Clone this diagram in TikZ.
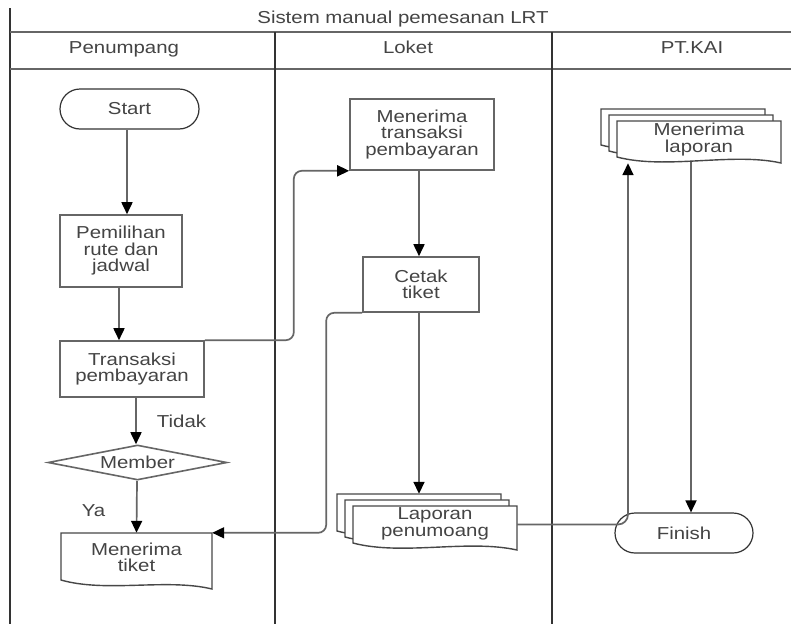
\documentclass[tikz,border=0pt]{standalone}
\usepackage{fontspec}
\setmainfont{Liberation Sans}[FakeStretch=1.18]
\usetikzlibrary{arrows.meta,shapes.geometric}
\definecolor{ln}{HTML}{666666}
\definecolor{tx}{HTML}{444444}
\definecolor{dv}{HTML}{333333}
\tikzset{
  box/.style={draw=ln, line width=1.6pt, fill=white},
  docbox/.style={draw=dv!90, line width=1.4pt, fill=white},
  txt/.style={text=tx, font=\fontsize{17.3}{16.5}\selectfont, align=center, inner sep=0pt},
  procbox/.style={txt, box, rectangle},
  termbox/.style={txt, draw=dv, line width=1.2pt, fill=white, rectangle, rounded corners=20pt},
  plain/.style={txt, rectangle},
  conn/.style={draw=ln, line width=1.7pt, rounded corners=8pt},
  arr/.style={conn, -{Triangle[length=12pt,width=11pt,fill=black,color=black]}},
  lane/.style={draw=dv, line width=2.3pt},
  hline/.style={draw=ln, line width=1.9pt}
}
\newcommand\docshape[5]{%
  \pgfmathsetmacro\dsxr{#1+#3}%
  \pgfmathsetmacro\dsyr{#2+#5}%
  \pgfmathsetmacro\dsyl{#2+#4}%
  \pgfmathsetmacro\dscax{#1+0.7*#3}%
  \pgfmathsetmacro\dscay{#2+#5-11}%
  \pgfmathsetmacro\dscbx{#1+0.3*#3}%
  \pgfmathsetmacro\dscby{#2+#4+13}%
  \draw[docbox] (#1,#2) -- (\dsxr,#2) -- (\dsxr,\dsyr) .. controls (\dscax,\dscay) and (\dscbx,\dscby) .. (#1,\dsyl) -- cycle;
}
\begin{document}
\begin{tikzpicture}[x=1pt,y=-1pt]
\useasboundingbox (0,0) rectangle (791,624);
\fill[white] (0,0) rectangle (791,624);

% pool and lanes
\draw[lane] (10,8) -- (10,624);
\draw[hline] (10,32) -- (791,32);
\draw[hline] (10,69) -- (791,69);
\draw[lane] (275,32) -- (275,624);
\draw[lane] (552,32) -- (552,624);

\node[txt, anchor=base] (title) at (403,23) {Sistem manual pemesanan LRT};
\node[txt, anchor=base] (h1) at (124,53) {Penumpang};
\node[txt, anchor=base] (h2) at (408,53) {Loket};
\node[txt, anchor=base] (h3) at (692,53) {PT.KAI};

% invisible anchors for document shapes (defined first for connectors)
\node[plain, minimum width=151pt, minimum height=47pt] (tiket) at (136.5,556.5) {};
\node[plain, minimum width=164pt, minimum height=37pt] (lap) at (435,524.5) {};
\node[plain, minimum width=164pt, minimum height=37pt] (menlap) at (699,139.5) {};

% process nodes
\node[termbox, minimum width=139pt, minimum height=40pt] (start) at (129.5,109) {Start};
\node[procbox, minimum width=122pt, minimum height=72pt] (pem) at (121,251) {Pemilihan\\rute dan\\jadwal};
\node[procbox, minimum width=144pt, minimum height=56pt] (tr) at (132,369) {Transaksi\\pembayaran};
\node[txt, box, shape=diamond, aspect=5.1, minimum width=179pt, minimum height=35pt] (mem) at (137.5,462.5) {Member};
\node[procbox, minimum width=144pt, minimum height=71pt] (mt) at (422,134.5) {Menerima\\transaksi\\pembayaran};
\node[procbox, minimum width=116pt, minimum height=55pt] (ct) at (421,284.5) {Cetak\\tiket};

% connectors
\draw[arr] ([xshift=-2.5pt]start.south) -- ([xshift=6pt]pem.north);
\draw[arr] ([xshift=-2pt]pem.south) -- ([xshift=-13pt]tr.north);
\draw[arr] ([xshift=4pt]tr.south) -- ([xshift=-1.5pt]mem.north);
\draw[arr] ([xshift=-0.5pt]mem.south) -- (tiket.north);
\draw[arr] (tr.north east) -- ++(89,0) |- (mt.south west);
\draw[arr] ([xshift=-3pt]mt.south) -- ([xshift=-2pt]ct.north);
\draw[arr] (ct.south west) -- ++(-36,0) |- (tiket.north east);
\draw[arr] ([xshift=-2pt]ct.south) -- ([xshift=-16pt,yshift=12pt]lap.north);

% document shapes
\docshape{61}{533}{151}{47}{56}
\node[txt] (tikettext) at (136.5,557.5) {Menerima\\tiket};

\docshape{337}{494}{164}{37}{44}
\docshape{345}{500}{164}{37}{44}
\docshape{353}{506}{164}{37}{44}
\node[txt] (laptext) at (435,524) {Laporan\\penumoang};

\docshape{601}{109}{164}{36}{42}
\docshape{609}{115}{164}{36}{42}
\docshape{617}{121}{164}{36}{42}
\node[txt] (menlaptext) at (699,139.5) {Menerima\\laporan};

\node[termbox, minimum width=138pt, minimum height=40pt] (fin) at (684,533) {Finish};

\draw[arr, rounded corners=10pt] (lap.east) -| ([xshift=-71pt,yshift=-5pt]menlap.south);
\draw[arr] ([xshift=-8pt,yshift=-4pt]menlap.south) -- ([xshift=7pt]fin.north);

% labels
\node[txt, anchor=base] (tidak) at (181.5,427) {Tidak};
\node[txt, anchor=base] (ya) at (93.5,516) {Ya};
\end{tikzpicture}
\end{document}
